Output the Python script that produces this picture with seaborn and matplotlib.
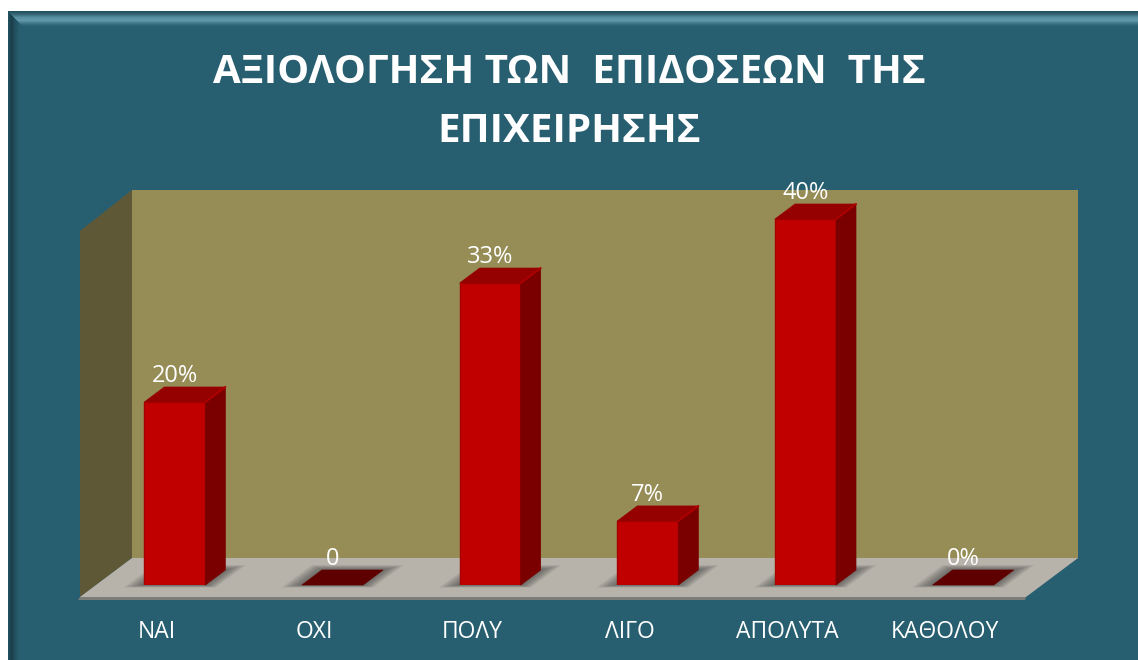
import matplotlib
matplotlib.use("Agg")
import matplotlib.pyplot as plt
import numpy as np
import pandas as pd
import seaborn as sns
from matplotlib.patches import Polygon

categories = ["ΝΑΙ", "ΟΧΙ", "ΠΟΛΥ", "ΛΙΓΟ", "ΑΠΟΛΥΤΑ", "ΚΑΘΟΛΟΥ"]
percent_values = [20, 0, 33, 7, 40, 0]
value_labels = ["20%", "0", "33%", "7%", "40%", "0%"]
title_lines = ["ΑΞΙΟΛΟΓΗΣΗ ΤΩΝ  ΕΠΙΔΟΣΕΩΝ  ΤΗΣ", "ΕΠΙΧΕΙΡΗΣΗΣ"]

W, H = 1138, 660
TEAL = np.array([0x28, 0x5F, 0x70]) / 255

sns.set_theme(style="white")
plt.rcParams["font.family"] = ["Open Sans", "Noto Sans", "DejaVu Sans"]

fig = plt.figure(figsize=(W / 100, H / 100), dpi=100, facecolor="white")

# Bevelled panel behind the chart, painted as one raster
yy, xx = np.mgrid[0:H, 0:W]
panel = np.ones((H, W, 3))
inside = (xx >= 8) & (yy >= 11)
panel[inside] = TEAL
top_stops = np.array([0, 3, 6, 9, 12, 14.5])
top_r = np.array([0x20, 0x38, 0x58, 0x60, 0x40, 0x28]) / 255
top_g = np.array([0x50, 0x68, 0x90, 0x98, 0x74, 0x5F]) / 255
top_b = np.array([0x5E, 0x78, 0xA2, 0xAA, 0x86, 0x70]) / 255
d_top = yy - 11.0
d_left = xx - 8.0
top_band = inside & (d_top < 14.5) & (d_top <= d_left)
for ch, stops in enumerate((top_r, top_g, top_b)):
    panel[..., ch][top_band] = np.interp(d_top[top_band], top_stops, stops)
left_band = inside & (d_left < 11) & (d_left < d_top)
shade = np.interp(d_left[left_band], [0, 3, 6, 11], [0.85, 0.66, 0.82, 1.0])
panel[left_band] = TEAL * shade[:, None]

bg = fig.add_axes([0, 0, 1, 1], zorder=0)
bg.imshow(panel, extent=(0, W, H, 0), aspect="auto", interpolation="nearest")
bg.set_xlim(0, W)
bg.set_ylim(H, 0)
bg.axis("off")

# Walls and floor of the box
bg.add_patch(Polygon([(132, 190), (1078, 190), (1078, 558), (132, 558)], fc="#968C56", ec="none"))
bg.add_patch(Polygon([(80, 231), (132, 190), (132, 558), (80, 597)], fc="#5F5836", ec="none"))
bg.add_patch(Polygon([(132, 558), (1078, 558), (1026, 597), (80, 597)], fc="#B7B3AB", ec="none"))
bg.add_patch(Polygon([(80, 597), (1026, 597), (1025, 600), (78, 600)], fc="#7C7C78", ec="none"))

# Front plane of the bars: 157.67 px per category, 9.15 px per percentage point
PX_X = 157.67
PX_Y = 9.15
ax = fig.add_axes([96 / W, 1 - 585 / H, 946 / W, 411.75 / H], zorder=1)
ax.patch.set_alpha(0)
frame = pd.DataFrame({"category": categories, "percent": percent_values})
sns.barplot(data=frame, x="category", y="percent", color="#C00000", saturation=1,
            width=61 / PX_X, ax=ax, zorder=3)
ax.set_ylim(0, 45)
ax.set_xlim(-0.5, 5.5)
ax.axis("off")

DX = 20 / PX_X
DY = 15 / PX_Y

for patch, label, category in zip(list(ax.patches), value_labels, categories):
    x0 = patch.get_x()
    x1 = x0 + patch.get_width()
    top = patch.get_height()

    # Soft shadow on the floor, built from stacked translucent outlines
    for grow in np.linspace(1, 0, 14):
        gx = grow * 21 / PX_X
        low = grow * 2.5 / PX_Y
        high = grow * 5 / PX_Y
        ax.add_patch(Polygon(
            [(x0 - gx, -low), (x1 + gx * 0.5, -low),
             (x1 + DX + gx, DY + high), (x0 + DX - gx * 0.5, DY + high)],
            fc="#3c3c3c", ec="none", alpha=0.06, zorder=2, clip_on=False))

    center = x0 + patch.get_width() / 2
    if top > 0:
        ax.add_patch(Polygon([(x1, 0), (x1 + DX, DY), (x1 + DX, top + DY), (x1, top)],
                             fc="#7A0000", ec="#7A0000", lw=0.5, joinstyle="round",
                             zorder=4, clip_on=False))
        ax.add_patch(Polygon([(x0, top), (x1, top), (x1 + DX, top + DY), (x0 + DX, top + DY)],
                             fc="#950000", ec="#950000", lw=0.5, joinstyle="round",
                             zorder=4, clip_on=False))
        # Lit ridge where the top face meets the side face
        ax.plot([x1, x1 + DX], [top, top + DY], color="#AE0000", lw=1.4,
                solid_capstyle="round", zorder=5, clip_on=False)
        patch.set_edgecolor("#A80000")
        patch.set_linewidth(1)
        patch.set_joinstyle("round")
    else:
        ax.add_patch(Polygon([(x0, 0), (x1, 0), (x1 + DX, DY), (x0 + DX, DY)],
                             fc="#5F0000", ec="#5F0000", lw=0.5, joinstyle="round",
                             zorder=4, clip_on=False))
    ax.text(center, top + DY - 0.1, label, ha="center", va="bottom",
            color="white", fontsize=17, zorder=6, clip_on=False)
    ax.text(center - 18 / PX_X, -5.15, category,
            ha="center", va="center", color="white", fontsize=16.5, clip_on=False)

fig.text(569 / W, 1 - 83 / H, title_lines[0], ha="center", va="baseline",
         color="white", fontsize=29, fontweight="bold", zorder=5)
fig.text(569 / W, 1 - 142 / H, title_lines[1], ha="center", va="baseline",
         color="white", fontsize=29, fontweight="bold", zorder=5)

fig.savefig("out.png", dpi=100)
